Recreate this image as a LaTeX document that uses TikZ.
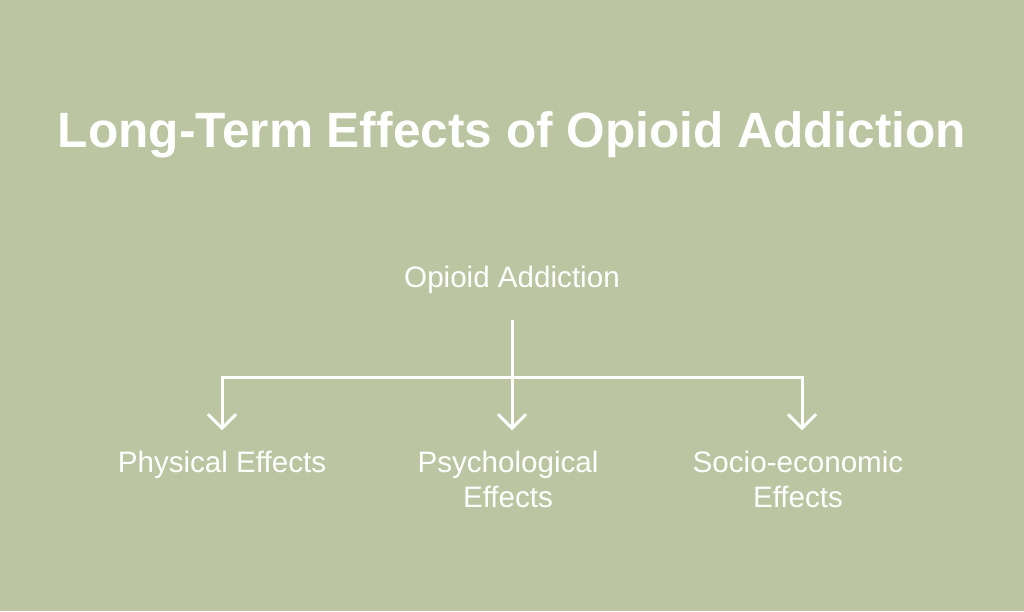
\documentclass[tikz,border=0pt]{standalone}
\usepackage{fontspec}
\setmainfont{Liberation Sans}
\usepackage{xcolor}
\usetikzlibrary{arrows.meta}
\usetikzlibrary{positioning}
\definecolor{sage}{HTML}{BBC5A1}

\begin{document}
\begin{tikzpicture}[x=1pt,y=-1pt]
\tikzset{>={Straight Barb[length=14pt,width=28pt]}}
\tikzstyle{effect} =[text=white,font=\fontsize{29.6}{35}\selectfont,align=center,inner sep=0pt,anchor=base]
\tikzstyle{link} =[white,line width=3pt]

\fill[sage] (0,0) rectangle (1024,611);

\node[text=white,font=\bfseries\fontsize{49.6}{58}\selectfont,anchor=base](title) at (512,147){Long-Term Effects of Opioid Addiction};

% the base of a two-line node is its last line
\node[effect](root) at (512,287){Opioid Addiction};
\node[effect](phys) at (222,472){Physical Effects};
\node[effect](psych) at (508,507){Psychological\\Effects};
\node[effect](socio) at (798,507){Socio-economic\\Effects};

\coordinate (split) at (512,377);
\coordinate (right) at (802,377);

\draw [->,link,shorten <=27pt,shorten >=20pt] (root.south) -- (root.south |- psych.north);
\draw [->,link,shorten >=20pt] (split) -| (phys.north);
\draw [->,link,shorten >=20pt] (split) -- (right) -- (right |- socio.north);
\end{tikzpicture}
\end{document}
